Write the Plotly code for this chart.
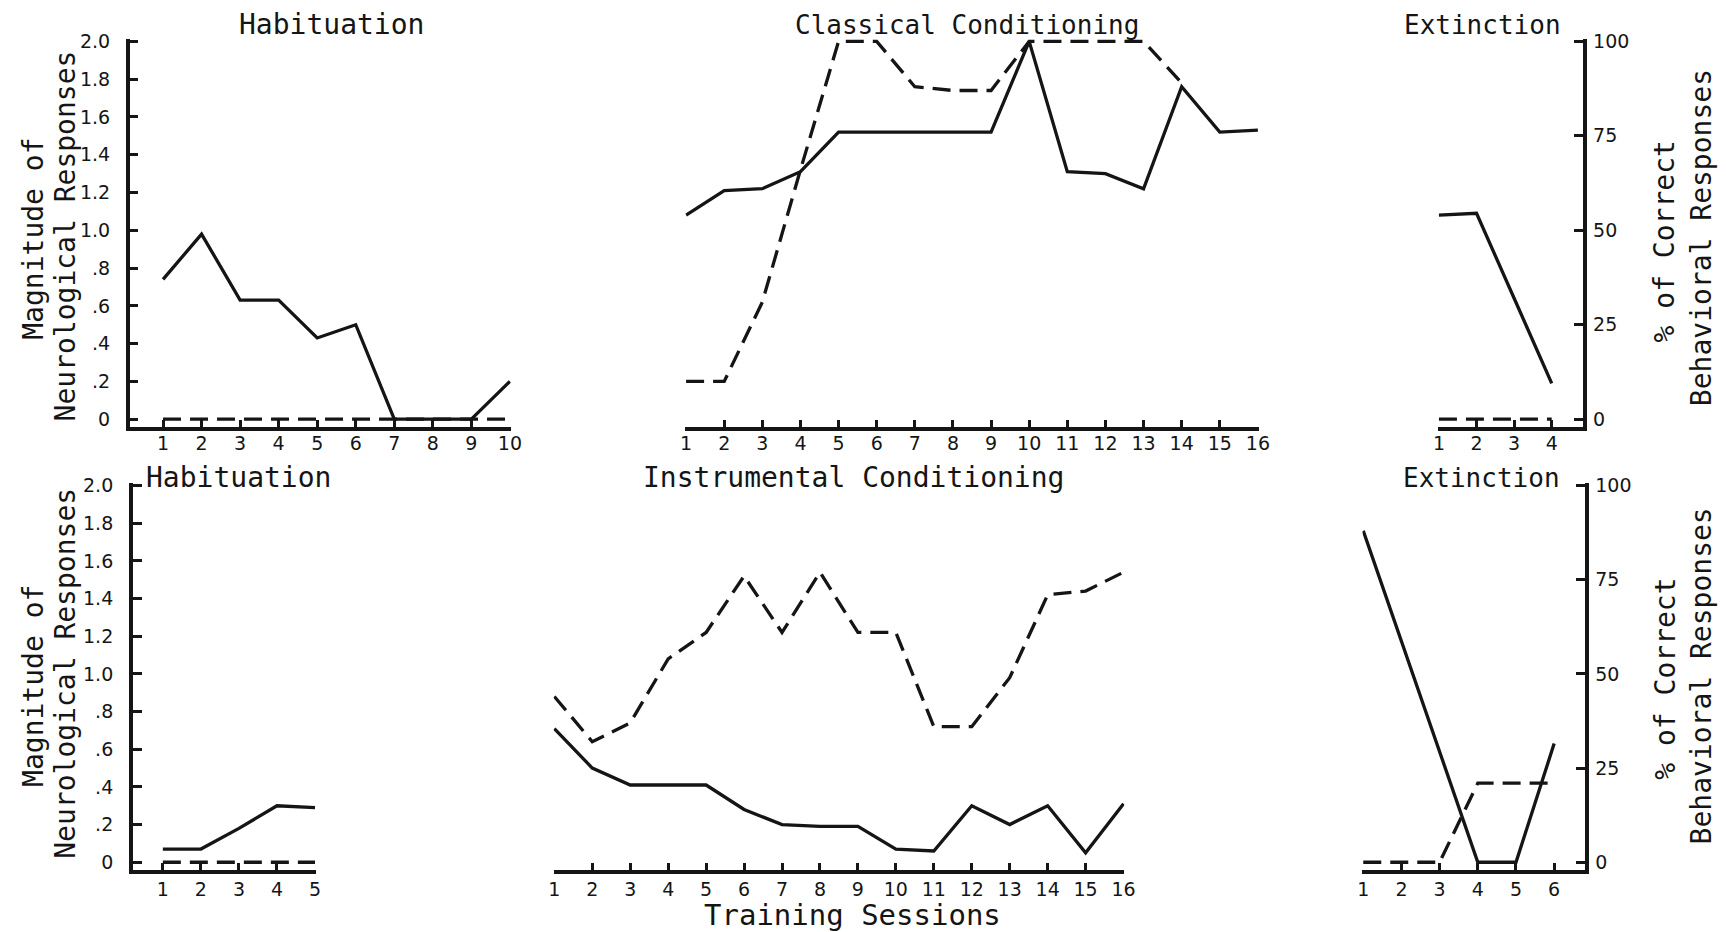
import plotly.graph_objects as go

W, H = 1726, 932
INK = "#151515"
FONT = "DejaVu Sans Mono"
TICK_FONT = "DejaVu Sans"

# ---- data: solid = magnitude of neurological responses, dashed = % correct behavioural responses
hab1_sessions = [1, 2, 3, 4, 5, 6, 7, 8, 9, 10]
hab1_neuro = [0.74, 0.98, 0.63, 0.63, 0.43, 0.50, 0.0, 0.0, 0.0, 0.20]
hab1_behav = [0, 0, 0, 0, 0, 0, 0, 0, 0, 0]

class_sessions = [1, 2, 3, 4, 5, 6, 7, 8, 9, 10, 11, 12, 13, 14, 15, 16]
class_neuro = [1.08, 1.21, 1.22, 1.31, 1.52, 1.52, 1.52, 1.52, 1.52, 2.0,
               1.31, 1.30, 1.22, 1.76, 1.52, 1.53]
class_behav_sessions = [1, 2, 3, 4, 5, 6, 7, 8, 9, 10, 11, 12, 13, 14]
class_behav = [10, 10, 31, 66, 100, 100, 88, 87, 87, 100, 100, 100, 100, 89]

ext1_sessions = [1, 2, 3, 4]
ext1_neuro = [1.08, 1.09, 0.64, 0.19]
ext1_behav = [0, 0, 0, 0]

hab2_sessions = [1, 2, 3, 4, 5]
hab2_neuro = [0.07, 0.07, 0.18, 0.30, 0.29]
hab2_behav = [0, 0, 0, 0, 0]

instr_sessions = [1, 2, 3, 4, 5, 6, 7, 8, 9, 10, 11, 12, 13, 14, 15, 16]
instr_neuro = [0.71, 0.50, 0.41, 0.41, 0.41, 0.28, 0.20, 0.19, 0.19, 0.07,
               0.06, 0.30, 0.20, 0.30, 0.05, 0.31]
instr_behav = [44, 32, 37, 54, 61, 76, 61, 77, 61, 61, 36, 36, 49, 71, 72, 77]

ext2_sessions = [1, 2, 3, 4, 5, 6]
ext2_neuro = [1.76, 1.17, 0.59, 0.0, 0.0, 0.63]
ext2_behav = [0, 0, 0, 21, 21, 21]

neuro_ticks = [0, 0.2, 0.4, 0.6, 0.8, 1.0, 1.2, 1.4, 1.6, 1.8, 2.0]
neuro_tick_text = ["0", ".2", ".4", ".6", ".8", "1.0", "1.2", "1.4", "1.6", "1.8", "2.0"]
behav_ticks = [0, 25, 50, 75, 100]
behav_tick_text = ["0", "25", "50", "75", "100"]

# ---- layout helpers (pixel -> paper fraction)
def fx(px):
    return px / W


def fy(py):
    return 1 - py / H


TOP_ROW = (30.5, 423.2)      # y pixels: top of plot area, x-axis line
BOTTOM_ROW = (480.5, 872.0)
NEURO_RANGE = [-0.04, 2.012]
BEHAV_RANGE = [-2.0, 100.6]

panels = [
    dict(row=TOP_ROW, xpx=(125.9, 510.4), xr=[0.136, 10.02], side="left", sx=-3,
         s=hab1_sessions, n=hab1_neuro, bs=hab1_sessions, b=hab1_behav),
    dict(row=TOP_ROW, xpx=(686.7, 1265.4), xr=[0.98, 16.02], side=None, sx=-3,
         s=class_sessions, n=class_neuro, bs=class_behav_sessions, b=class_behav),
    dict(row=TOP_ROW, xpx=(1446.6, 1592.3), xr=[0.98, 4.82], side="right", sx=-3,
         s=ext1_sessions, n=ext1_neuro, bs=ext1_sessions, b=ext1_behav),
    dict(row=BOTTOM_ROW, xpx=(129.0, 313.7), xr=[0.21, 5.02], side="left", sx=0,
         s=hab2_sessions, n=hab2_neuro, bs=hab2_sessions, b=hab2_behav),
    dict(row=BOTTOM_ROW, xpx=(553.7, 1129.8), xr=[0.98, 16.02], side=None, sx=0,
         s=instr_sessions, n=instr_neuro, bs=instr_sessions, b=instr_behav),
    dict(row=BOTTOM_ROW, xpx=(1370.2, 1594.5), xr=[0.98, 6.8], side="right", sx=0,
         s=ext2_sessions, n=ext2_neuro, bs=ext2_sessions, b=ext2_behav),
]

tick_font = dict(family=TICK_FONT, size=19, color=INK)


def ref(letter, k):
    return letter if k == 1 else f"{letter}{k}"


def axis_key(letter, k):
    return f"{letter}axis" if k == 1 else f"{letter}axis{k}"


fig = go.Figure()
layout = {}

for i, p in enumerate(panels):
    xk = i + 1
    yn = 2 * i + 1
    yb = 2 * i + 2
    top_px, axis_px = p["row"]

    layout[axis_key("x", xk)] = dict(
        domain=[fx(p["xpx"][0]), fx(p["xpx"][1])], range=p["xr"],
        anchor=ref("y", yn), showgrid=False, zeroline=False,
        showline=True, linewidth=3.5, linecolor=INK,
        ticks="inside", ticklen=7, tickwidth=2.5, tickcolor=INK,
        tickvals=p["s"], ticktext=[str(v) for v in p["s"]],
        tickfont=tick_font, ticklabelstandoff=p["sx"], fixedrange=True,
    )
    left = p["side"] == "left"
    right = p["side"] == "right"
    layout[axis_key("y", yn)] = dict(
        domain=[fy(axis_px), fy(top_px)], range=NEURO_RANGE,
        anchor=ref("x", xk), showgrid=False, zeroline=False,
        showline=left, linewidth=3.5, linecolor=INK,
        ticks="inside" if left else "", ticklen=9, tickwidth=2.5, tickcolor=INK,
        tickvals=neuro_ticks, ticktext=neuro_tick_text,
        showticklabels=left, tickfont=tick_font, ticklabelstandoff=12,
        fixedrange=True,
    )
    layout[axis_key("y", yb)] = dict(
        overlaying=ref("y", yn), side="right", range=BEHAV_RANGE,
        anchor=ref("x", xk), showgrid=False, zeroline=False,
        showline=right, linewidth=3.5, linecolor=INK,
        ticks="inside" if right else "", ticklen=9, tickwidth=2.5, tickcolor=INK,
        tickvals=behav_ticks, ticktext=behav_tick_text,
        showticklabels=right, tickfont=tick_font, ticklabelstandoff=3,
        fixedrange=True,
    )

    fig.add_trace(go.Scatter(
        x=p["bs"], y=p["b"], xaxis=ref("x", xk), yaxis=ref("y", yb),
        mode="lines", line=dict(color=INK, width=3.3, dash="18px,9px"),
        hoverinfo="skip", showlegend=False,
    ))
    fig.add_trace(go.Scatter(
        x=p["s"], y=p["n"], xaxis=ref("x", xk), yaxis=ref("y", yn),
        mode="lines", line=dict(color=INK, width=3.3),
        hoverinfo="skip", showlegend=False,
    ))

# ---- titles and axis captions
def label(text, cx, cy, size, angle=0):
    return dict(text=text, x=fx(cx), y=fy(cy), xref="paper", yref="paper",
                xanchor="center", yanchor="middle", showarrow=False,
                textangle=angle, font=dict(family=FONT, size=size, color=INK))


annotations = [
    label("Habituation", 330, 16, 28),
    label("Classical Conditioning", 971, 16, 26),
    label("Extinction", 1491, 16, 26),
    label("Habituation", 236, 475, 28),
    label("Instrumental Conditioning", 856, 475, 28),
    label("Extinction", 1490, 475, 26),
    label("Training Sessions", 855, 918, 29),
]
for cy_a, cy_b in ((233, 230), (686, 673)):
    annotations.append(label("Magnitude of", 28, cy_a, 28, -90))
    annotations.append(label("Neurological Responses", 61, cy_b, 28, -90))
for cy_a, cy_b in ((235, 232), (678, 676)):
    annotations.append(label("% of Correct", 1676, cy_a, 28, -90))
    annotations.append(label("Behavioral Responses", 1712, cy_b, 28, -90))

fig.update_layout(
    width=W, height=H, autosize=False,
    margin=dict(l=0, r=0, t=0, b=0),
    paper_bgcolor="white", plot_bgcolor="rgba(0,0,0,0)",
    showlegend=False, annotations=annotations,
    **layout,
)

# the page itself should add no offset around the fixed-size figure
fig.write_html(
    "out.html",
    config=dict(displayModeBar=False),
    post_script="document.body.style.margin='0';document.body.style.overflow='hidden';",
)
